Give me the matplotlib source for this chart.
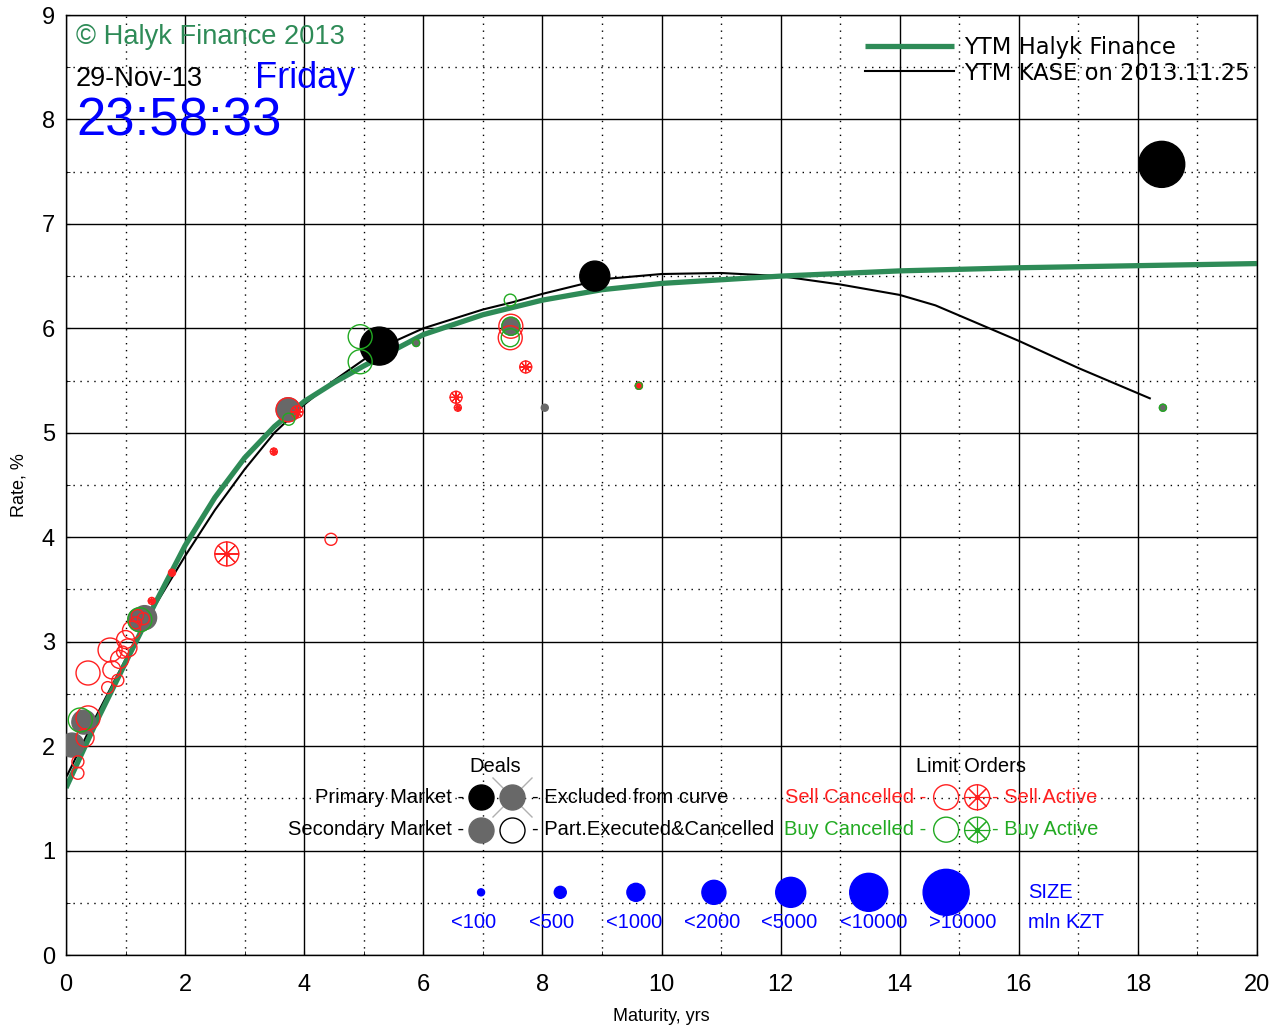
import matplotlib
matplotlib.use("Agg")
import matplotlib.pyplot as plt
from matplotlib.ticker import MultipleLocator

plt.rcParams["font.family"] = ["Liberation Sans", "DejaVu Sans"]

# ---------------------------------------------------------------------------
# Data
# ---------------------------------------------------------------------------

# YTM curve, Halyk Finance
halyk_x = [0, 0.5, 1, 1.5, 2, 2.5, 3, 3.5, 4, 4.5, 5, 6, 7, 8, 9, 10, 12, 14,
           16, 18, 20]
halyk_y = [1.6, 2.22, 2.8, 3.37, 3.92, 4.38, 4.76, 5.06, 5.3, 5.48, 5.64, 5.94,
           6.13, 6.27, 6.37, 6.43, 6.5, 6.55, 6.58, 6.6, 6.62]

# YTM curve, KASE on 2013.11.25
kase_x = [0.02, 0.5, 1, 1.5, 2, 2.5, 3, 3.5, 4, 4.5, 5, 5.3, 6, 7, 7.5, 8, 9,
          10, 11, 12, 13, 14, 14.6, 16, 17, 18.2]
kase_y = [1.72, 2.28, 2.83, 3.35, 3.82, 4.26, 4.65, 5.0, 5.27, 5.5, 5.7, 5.82,
          6.0, 6.18, 6.25, 6.33, 6.47, 6.52, 6.53, 6.5, 6.42, 6.32, 6.22, 5.88,
          5.62, 5.33]

# deals: maturity, rate, size class (0: <100 ... 6: >10000 mln KZT)
primary_x = [5.26, 8.88, 18.4]
primary_y = [5.83, 6.5, 7.57]
primary_cls = [5, 4, 6]

secondary_x = [0.1, 0.3, 1.24, 1.32, 3.73, 7.47, 5.88, 8.04, 18.42, 9.62]
secondary_y = [2.01, 2.23, 3.21, 3.23, 5.22, 6.02, 5.86, 5.24, 5.24, 5.45]
secondary_cls = [3, 3, 3, 3, 3, 2, 0, 0, 0, 0]

# limit orders
sell_cancel_x = [0.37, 0.32, 0.2, 0.2, 0.37, 0.74, 0.77, 0.9, 1.0, 1.04, 0.87,
                 0.7, 1.1, 0.95, 1.17, 1.2, 1.3, 4.45, 7.46, 7.47, 3.73]
sell_cancel_y = [2.27, 2.08, 1.85, 1.74, 2.70, 2.92, 2.73, 2.83, 3.02, 2.94,
                 2.63, 2.56, 3.11, 2.9, 3.18, 3.25, 3.22, 3.98, 5.91, 6.02, 5.22]
sell_cancel_cls = [3, 2, 1, 1, 3, 3, 2, 2, 2, 2, 1, 1, 2, 1, 1, 1, 1, 1, 3, 3, 3]

sell_active_x = [1.44, 1.78, 2.7, 3.49, 3.88, 6.55, 6.58, 7.72, 9.62]
sell_active_y = [3.39, 3.66, 3.84, 4.82, 5.2, 5.34, 5.24, 5.63, 5.45]
sell_active_cls = [0, 0, 3, 0, 1, 1, 0, 1, 0]

buy_cancel_x = [0.24, 1.24, 3.74, 4.94, 4.94, 7.46, 7.46, 7.47, 5.88, 18.42, 9.62]
buy_cancel_y = [2.25, 3.21, 5.13, 5.92, 5.68, 6.27, 5.91, 6.02, 5.86, 5.24, 5.45]
buy_cancel_cls = [3, 3, 1, 3, 3, 1, 2, 2, 0, 0, 0]

size_labels = ["<100", "<500", "<1000", "<2000", "<5000", "<10000", ">10000"]

# ---------------------------------------------------------------------------
# Styles
# ---------------------------------------------------------------------------
DIAM_PX = [7, 12, 18, 24, 30, 38, 46]   # marker diameter per size class
RED = "#ff2020"
GREEN = "#22aa22"
GRAY = "#686868"
HALYK = "#2e8b57"
BLUE = "#0000ff"


def area(cls):
    return [(DIAM_PX[c] * 0.72) ** 2 for c in cls]


def sell_active(ax, x, y, s, color, z=5):
    ax.scatter(x, y, s=s, facecolors="none", edgecolors=color, linewidths=1, zorder=z)
    ax.scatter(x, y, s=s, marker=(8, 2, 0), color=color, linewidths=0.8, zorder=z)
    ax.scatter(x, y, s=8, color=color, zorder=z)


fig = plt.figure(figsize=(12.78, 10.25), dpi=100, facecolor="white")
ax = fig.add_axes([66 / 1278, 70 / 1025, 1191 / 1278, 940 / 1025])

ax.set_xlim(0, 20)
ax.set_ylim(0, 9)
ax.xaxis.set_major_locator(MultipleLocator(2))
ax.xaxis.set_minor_locator(MultipleLocator(1))
ax.yaxis.set_major_locator(MultipleLocator(1))
ax.yaxis.set_minor_locator(MultipleLocator(0.5))
ax.grid(which="major", color="black", lw=1.0, ls="-", zorder=0)
ax.grid(which="minor", color="black", lw=1.0, ls=(0, (1, 4)), zorder=0)
ax.set_axisbelow(True)
ax.tick_params(which="both", direction="in", length=3, labelsize=17)
ax.tick_params(axis="x", pad=14)
ax.tick_params(axis="y", pad=8)
for sp in ax.spines.values():
    sp.set_linewidth(1.0)
ax.set_xlabel("Maturity, yrs", fontsize=13, labelpad=8)
ax.set_ylabel("Rate, %", fontsize=13, labelpad=10)

# curves
ax.plot(kase_x, kase_y, color="black", lw=1.5, zorder=2)
ax.plot(halyk_x, halyk_y, color=HALYK, lw=3.8, zorder=2.5, solid_capstyle="butt")

# deals
ax.scatter(secondary_x, secondary_y, s=area(secondary_cls), color=GRAY, zorder=4)
ax.scatter(primary_x, primary_y, s=area(primary_cls), color="black", zorder=4)

# limit orders
ax.scatter(sell_cancel_x, sell_cancel_y, s=area(sell_cancel_cls),
           facecolors="none", edgecolors=RED, linewidths=1, zorder=5)
sell_active(ax, sell_active_x, sell_active_y, area(sell_active_cls), RED)
ax.scatter(buy_cancel_x, buy_cancel_y, s=area(buy_cancel_cls),
           facecolors="none", edgecolors=GREEN, linewidths=1, zorder=5)

# ---------------------------------------------------------------------------
# Header texts
# ---------------------------------------------------------------------------
ta = ax.transAxes
ax.text(0.0084, 0.977, "\u00a9 Halyk Finance 2013", transform=ta, color=HALYK,
        fontsize=19.6, va="center", ha="left")
ax.text(0.0084, 0.932, "29-Nov-13", transform=ta, color="black",
        fontsize=19.5, va="center", ha="left")
ax.text(0.159, 0.932, "Friday", transform=ta, color=BLUE,
        fontsize=26, va="center", ha="left")
ax.text(0.0084, 0.887, "23:58:33", transform=ta, color=BLUE,
        fontsize=38, va="center", ha="left")

# curve legend
ax.plot([0.671, 0.746], [0.967, 0.967], transform=ta, color=HALYK, lw=3.8,
        solid_capstyle="butt", zorder=6)
ax.plot([0.671, 0.746], [0.940, 0.940], transform=ta, color="black", lw=1.5, zorder=6)
ax.text(0.754, 0.965, "YTM Halyk Finance", transform=ta, fontsize=16.3,
        family="DejaVu Sans", va="center", ha="left")
ax.text(0.754, 0.938, "YTM KASE on 2013.11.25", transform=ta, fontsize=16.3,
        family="DejaVu Sans", va="center", ha="left")

# ---------------------------------------------------------------------------
# Marker legends (data coordinates)
# ---------------------------------------------------------------------------
fs = 14.5
r1, r2 = 1.51, 1.20
ax.text(7.2, 1.80, "Deals", fontsize=fs, ha="center", va="center")
ax.text(6.68, r1, "Primary Market -", fontsize=fs, ha="right", va="center")
ax.text(6.68, r2, "Secondary Market -", fontsize=fs, ha="right", va="center")
ax.scatter([6.97], [r1], s=(25 * 0.72) ** 2, color="black", zorder=6)
ax.scatter([7.49], [r1], s=(40 * 0.72) ** 2, marker="x", color="#b0b0b0",
           linewidths=1, zorder=6)
ax.scatter([7.49], [r1], s=(25 * 0.72) ** 2, color=GRAY, zorder=7)
ax.scatter([6.97], [r2], s=(25 * 0.72) ** 2, color=GRAY, zorder=6)
ax.scatter([7.49], [r2], s=(25 * 0.72) ** 2, facecolors="white",
           edgecolors="black", linewidths=1, zorder=6)
ax.text(7.82, r1, "- Excluded from curve", fontsize=fs, ha="left", va="center")
ax.text(7.82, r2, "- Part.Executed&Cancelled", fontsize=fs, ha="left", va="center")

ax.text(15.2, 1.80, "Limit Orders", fontsize=fs, ha="center", va="center")
ax.text(14.45, r1, "Sell Cancelled -", fontsize=fs, color=RED, ha="right", va="center")
ax.text(14.45, r2, "Buy Cancelled -", fontsize=fs, color=GREEN, ha="right", va="center")
ax.scatter([14.78], [r1], s=(25 * 0.72) ** 2, facecolors="none",
           edgecolors=RED, linewidths=1, zorder=6)
ax.scatter([14.78], [r2], s=(25 * 0.72) ** 2, facecolors="none",
           edgecolors=GREEN, linewidths=1, zorder=6)
sell_active(ax, [15.30], [r1], [(25 * 0.72) ** 2], RED, z=6)
sell_active(ax, [15.30], [r2], [(25 * 0.72) ** 2], GREEN, z=6)
ax.text(15.55, r1, "- Sell Active", fontsize=fs, color=RED, ha="left", va="center")
ax.text(15.55, r2, "- Buy Active", fontsize=fs, color=GREEN, ha="left", va="center")

# size legend
size_x = [6.97, 8.30, 9.57, 10.88, 12.17, 13.48, 14.78]
label_left = [6.47, 7.78, 9.07, 10.38, 11.67, 13.0, 14.5]
ax.scatter(size_x, [0.60] * len(size_x), s=area(range(len(size_labels))),
           color=BLUE, zorder=6)
for lx, lab in zip(label_left, size_labels):
    ax.text(lx, 0.31, lab, fontsize=14.5, color=BLUE, ha="left", va="center")
ax.text(16.15, 0.60, "SIZE", fontsize=14.5, color=BLUE, ha="left", va="center")
ax.text(16.15, 0.31, "mln KZT", fontsize=14.5, color=BLUE, ha="left", va="center")

fig.savefig("out.png", dpi=100, facecolor="white")
